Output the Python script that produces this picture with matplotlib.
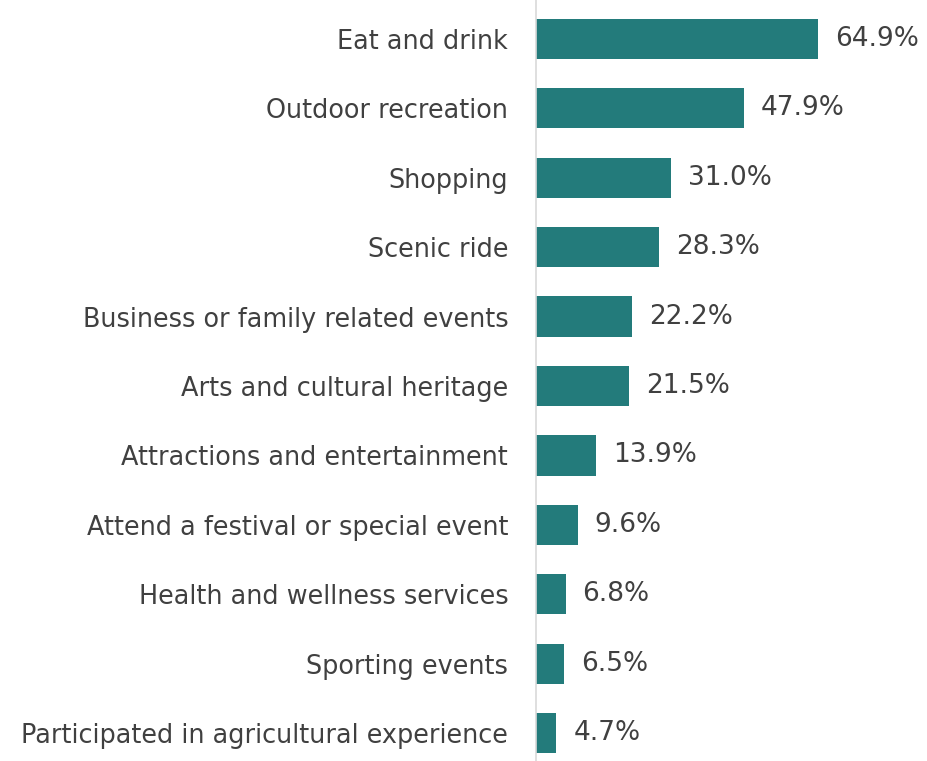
import matplotlib.pyplot as plt

categories = [
    "Eat and drink",
    "Outdoor recreation",
    "Shopping",
    "Scenic ride",
    "Business or family related events",
    "Arts and cultural heritage",
    "Attractions and entertainment",
    "Attend a festival or special event",
    "Health and wellness services",
    "Sporting events",
    "Participated in agricultural experience",
]
values = [64.9, 47.9, 31.0, 28.3, 22.2, 21.5, 13.9, 9.6, 6.8, 6.5, 4.7]

plt.rcParams['font.family'] = ['DejaVu Sans']

fig = plt.figure(figsize=(9.27, 7.61), dpi=100)
ax = fig.add_axes([536 / 927, 0, 1 - 536 / 927, 1])

pos = list(range(len(categories)))
ax.barh(pos, values, height=0.58, color='#237B7B')
ax.set_ylim(10.40, -0.56)
ax.set_xlim(0, 90)

for p, v in zip(pos, values):
    ax.text(v + 3.9, p, f"{v:.1f}%", va='center', ha='left', fontsize=19, color='#404040')

ax.set_yticks(pos)
ax.set_yticklabels(categories, fontsize=18.4, color='#404040')
ax.tick_params(axis='y', length=0, pad=20)
ax.set_xticks([])
for s in ['top', 'right', 'bottom']:
    ax.spines[s].set_visible(False)
ax.spines['left'].set_color('#D9D9D9')
ax.spines['left'].set_linewidth(1.2)

fig.savefig('out.png', dpi=100)
